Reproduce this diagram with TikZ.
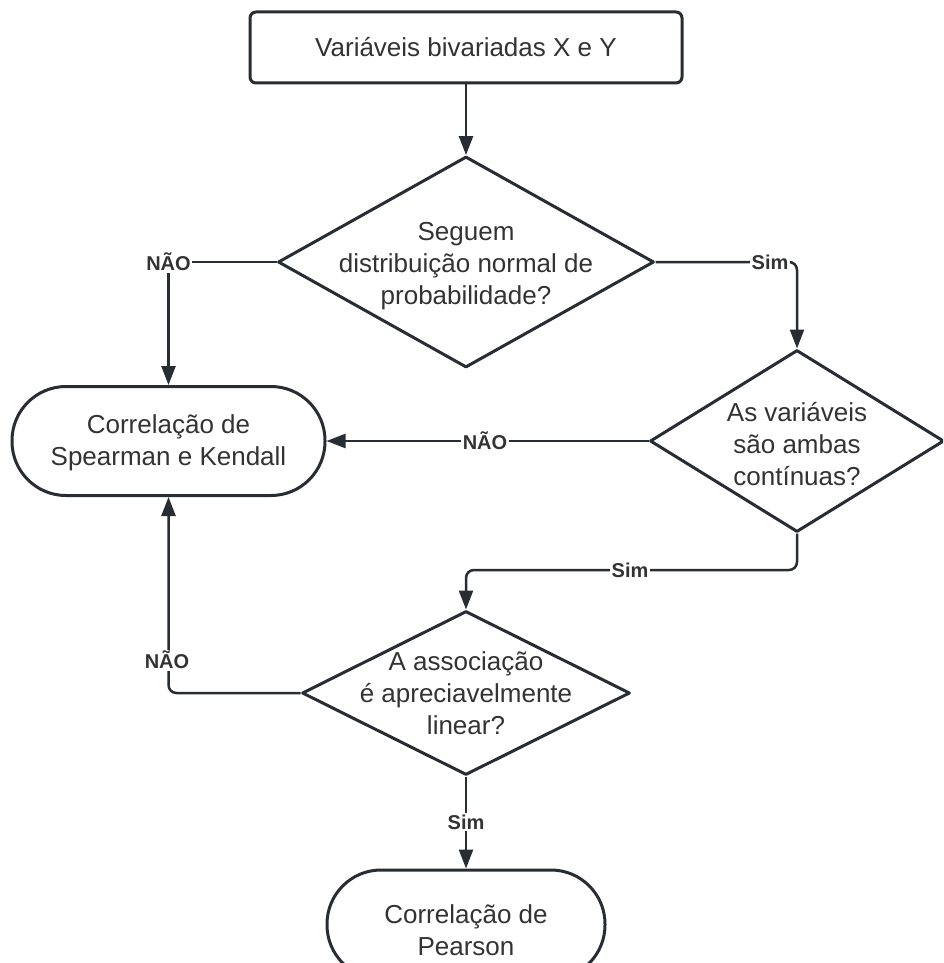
\documentclass[tikz,border=0pt]{standalone}
\usepackage{fontspec}
\setmainfont{Liberation Sans}
\usetikzlibrary{arrows.meta,shapes.geometric}
\definecolor{ln}{HTML}{282C33}
\definecolor{tx}{HTML}{333333}
\begin{document}
\begin{tikzpicture}[x=1pt,y=-1pt,
  box/.style={draw=ln, line width=3pt, fill=white, rounded corners=6pt, inner sep=0pt},
  stad/.style={draw=ln, line width=3pt, fill=white, rounded corners=54pt, inner sep=0pt},
  dia/.style={draw=ln, line width=3pt, fill=white, diamond, inner sep=0pt, line join=round},
  txt/.style={text=tx, align=center, inner sep=0pt, font=\fontsize{26}{32}\selectfont},
  lbl/.style={text=tx, fill=white, inner sep=1.5pt, font=\bfseries\fontsize{20}{24}\selectfont},
  conn/.style={draw=ln, line width=2.5pt, line join=round, -{Triangle[length=19pt,width=14pt]}}]
\clip (0,0) rectangle (943,963);
\fill[white] (0,0) rectangle (943,963);

% shapes
\node[box, minimum width=432pt, minimum height=71pt] (top) at (466,47.5) {};
\node[dia, minimum width=376pt, minimum height=211pt] (d1) at (466,262) {};
\node[dia, minimum width=294pt, minimum height=182pt] (d2) at (797,441) {};
\node[stad, minimum width=313pt, minimum height=109pt] (s1) at (168.5,441) {};
\node[dia, minimum width=328pt, minimum height=164pt] (d3) at (466,693) {};
\node[stad, minimum width=278pt, minimum height=109pt] (s2) at (466,924.5) {};

% texts
\node[txt] (t0) at (top.center) {Variáveis bivariadas X e Y};
\node[txt] (t1) at ([yshift=-4pt]d1.center) {Seguem\\distribuição normal de\\probabilidade?};
\node[txt] (t2) at ([yshift=-3pt]d2.center) {As variáveis\\são ambas\\contínuas?};
\node[txt] (t3) at (d3.center) {A associação\\é apreciavelmente\\linear?};
\node[txt] (ts1) at ([yshift=-2pt]s1.center) {Correlação de\\Spearman e Kendall};
\node[txt] (ts2) at ([yshift=-6pt]s2.center) {Correlação de\\Pearson};

% connector coordinates
\coordinate (c1) at (s1.north |- d1.west);
\coordinate (c2) at (797,570);

% connectors
\draw[conn] (top.south) -- (d1.north);
\draw[conn] (d1.west) -- (c1) -- (s1.north);
\draw[conn, rounded corners=8pt] (d1.east) -| (d2.north);
\draw[conn] (d2.west) -- (s1.east);
\draw[conn, rounded corners=8pt] (d2.south) -- (c2) -| (d3.north);
\draw[conn, rounded corners=8pt] (d3.west) -| (s1.south);
\draw[conn] (d3.south) -- (s2.north);

% labels
\node[lbl] (l1) at (c1) {NÃO};
\node[lbl] (l2) at (770,262) {Sim};
\node[lbl] (l3) at (485,441) {NÃO};
\node[lbl] (l4) at (630,570) {Sim};
\node[lbl] (l5) at (167,660) {NÃO};
\node[lbl] (l6) at (466,822) {Sim};
\end{tikzpicture}
\end{document}
